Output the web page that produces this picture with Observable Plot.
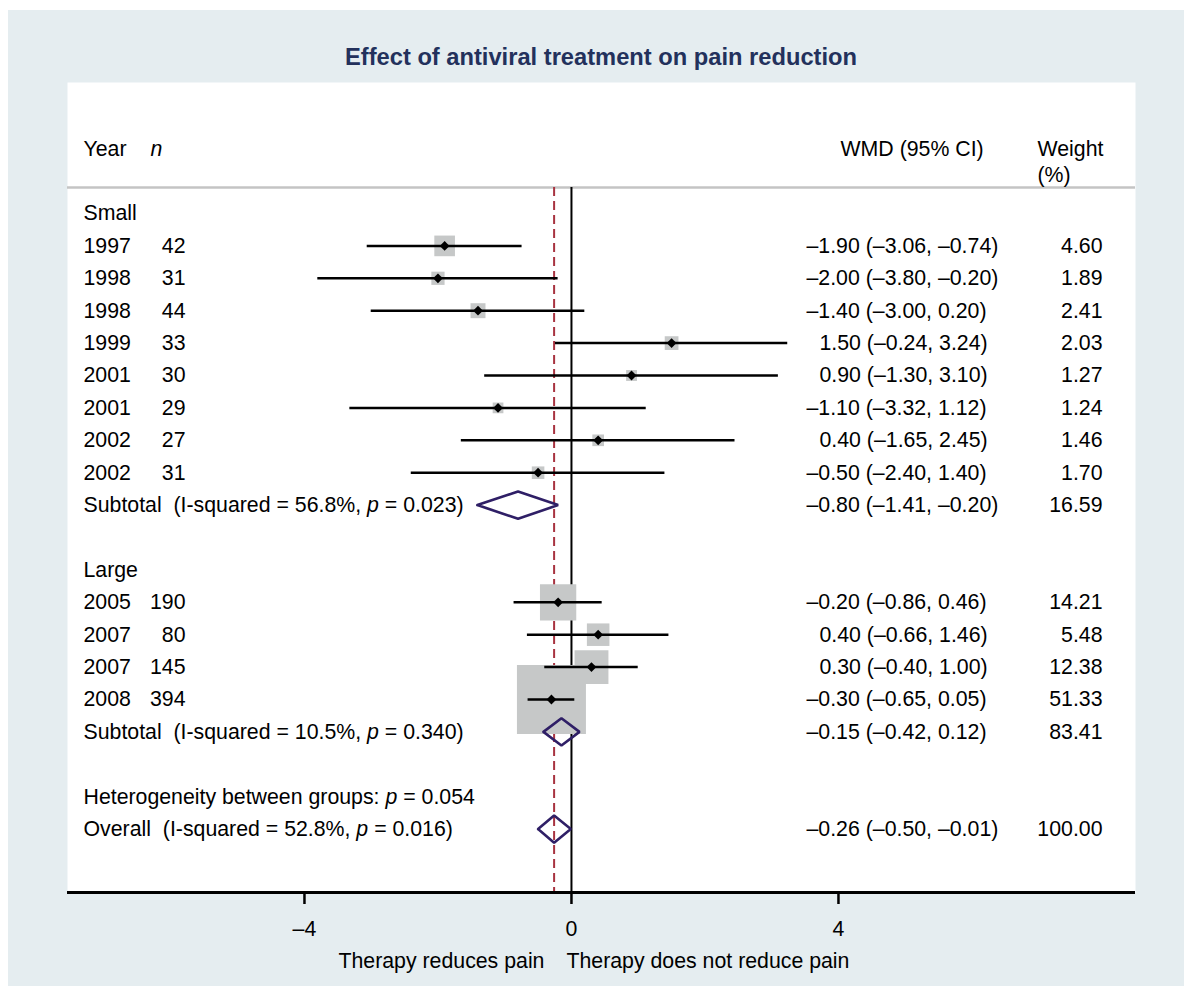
<!DOCTYPE html>
<html>
<head>
<meta charset="utf-8">
<script src="https://cdn.jsdelivr.net/npm/d3@7"></script>
<script src="https://cdn.jsdelivr.net/npm/@observablehq/plot@0.6"></script>
<style>
  body { margin: 0; background: #ffffff; font-family: "Liberation Sans", Arial, Helvetica, sans-serif; }
  #page { position: relative; width: 1184px; height: 986px; overflow: hidden; background: #ffffff; }
  #bg { position: absolute; left: 8px; top: 10px; right: 0; bottom: 0; background: #e5edf0; }
  #title { position: absolute; left: 67px; width: 1068px; top: 43px; text-align: center;
           font-weight: bold; font-size: 23.7px; color: #23315c; line-height: 28px; }
  #chart { position: absolute; left: 0; top: 82px; }
  #chart svg text { white-space: pre; }
</style>
</head>
<body>
<div id="page">
  <div id="bg"></div>
  <div id="title">Effect of antiviral treatment on pain reduction</div>
  <div id="chart"></div>
</div>
<script>
// ---------------- data ----------------
const groupNames = ["Small", "Large"];

const smallYear   = ["1997", "1998", "1998", "1999", "2001", "2001", "2002", "2002"];
const smallN      = [42, 31, 44, 33, 30, 29, 27, 31];
const smallEst    = [-1.90, -2.00, -1.40, 1.50, 0.90, -1.10, 0.40, -0.50];
const smallLo     = [-3.06, -3.80, -3.00, -0.24, -1.30, -3.32, -1.65, -2.40];
const smallHi     = [-0.74, -0.20, 0.20, 3.24, 3.10, 1.12, 2.45, 1.40];
const smallWeight = [4.60, 1.89, 2.41, 2.03, 1.27, 1.24, 1.46, 1.70];

const largeYear   = ["2005", "2007", "2007", "2008"];
const largeN      = [190, 80, 145, 394];
const largeEst    = [-0.20, 0.40, 0.30, -0.30];
const largeLo     = [-0.86, -0.66, -0.40, -0.65];
const largeHi     = [0.46, 1.46, 1.00, 0.05];
const largeWeight = [14.21, 5.48, 12.38, 51.33];

const subtotalEst    = [-0.80, -0.15];
const subtotalLo     = [-1.41, -0.42];
const subtotalHi     = [-0.20, 0.12];
const subtotalWeight = [16.59, 83.41];
const subtotalI2     = ["56.8", "10.5"];
const subtotalP      = ["0.023", "0.340"];

const overallEst = -0.26, overallLo = -0.50, overallHi = -0.01, overallWeight = 100.00;
const overallI2 = "52.8", overallP = "0.016";
const heterogeneityP = "0.054";

const xTicks = [-4, 0, 4];
const axisTitles = ["Therapy reduces pain", "Therapy does not reduce pain"];
const headerLabels = ["Year", "n", "WMD (95% CI)", "Weight", "(%)"];

// ---------------- build table rows ----------------
const groups = [
  {name: groupNames[0], year: smallYear, n: smallN, est: smallEst, lo: smallLo, hi: smallHi, w: smallWeight},
  {name: groupNames[1], year: largeYear, n: largeN, est: largeEst, lo: largeLo, hi: largeHi, w: largeWeight}
];
const fmt = v => (v < 0 ? "\u2013" : "") + Math.abs(v).toFixed(2);
const wmd = (e, l, h) => `${fmt(e)} (${fmt(l)}, ${fmt(h)})`;

const labels = [], studies = [], pooled = [];
let row = 0;
groups.forEach((g, gi) => {
  labels.push({row, text: g.name});
  row++;
  g.year.forEach((y, i) => {
    studies.push({row, year: y, n: String(g.n[i]), est: g.est[i], lo: g.lo[i], hi: g.hi[i], w: g.w[i]});
    row++;
  });
  pooled.push({row, est: subtotalEst[gi], lo: subtotalLo[gi], hi: subtotalHi[gi], w: subtotalWeight[gi]});
  labels.push({row, text: `Subtotal  (I-squared = ${subtotalI2[gi]}%, p = ${subtotalP[gi]})`});
  row += 2;
});
labels.push({row, text: `Heterogeneity between groups: p = ${heterogeneityP}`});
row++;
pooled.push({row, est: overallEst, lo: overallLo, hi: overallHi, w: overallWeight});
labels.push({row, text: `Overall  (I-squared = ${overallI2}%, p = ${overallP})`});

const estRows = [...studies, ...pooled].map(d => ({...d, ci: wmd(d.est, d.lo, d.hi), wt: d.w.toFixed(2)}));

// diamond outlines for pooled estimates
const halfH = 0.42;
const diamonds = pooled.flatMap((d, i) => [
  {id: i, x: d.lo, y: d.row}, {id: i, x: d.est, y: d.row - halfH},
  {id: i, x: d.hi, y: d.row}, {id: i, x: d.est, y: d.row + halfH},
  {id: i, x: d.lo, y: d.row}
]);

// ---------------- layout ----------------
const yTop = -4.043, yBottom = 20.957, headerRow = -2, sepRow = -0.8;
const FS = 21.3;
const txt = {fontSize: FS, fill: "black", frameAnchor: "left", y: "row", textAnchor: "start"};

const header = [
  {row: headerRow, text: headerLabels[0], dx: 16, italic: false},
  {row: headerRow, text: headerLabels[1], dx: 83, italic: true},
  {row: headerRow, text: headerLabels[2], dx: 773, italic: false},
  {row: headerRow, text: headerLabels[3], dx: 970, italic: false},
  {row: headerRow + 0.83, text: headerLabels[4], dx: 970, italic: false}
];

const plot = Plot.plot({
  width: 1184,
  height: 904,
  marginLeft: 67,
  marginRight: 49,
  marginTop: 0,
  marginBottom: 94,
  style: {background: "transparent", fontFamily: "Liberation Sans, Arial, Helvetica, sans-serif", fontSize: "21px", overflow: "visible"},
  x: {domain: [-7.55, 8.45]},
  y: {domain: [yTop, yBottom], range: [0, 810], axis: null},
  r: {type: "sqrt", domain: [0, 100], range: [0, 96.3 / Math.sqrt(Math.PI)]},
  marks: [
    Plot.frame({fill: "white", stroke: null}),
    Plot.ruleY([sepRow], {stroke: "#c4c4c4", strokeWidth: 2.5}),
    Plot.ruleX([0], {y1: sepRow, y2: yBottom, stroke: "black", strokeWidth: 2}),
    Plot.ruleX([overallEst], {y1: sepRow, y2: yBottom, stroke: "#a83340", strokeWidth: 2, strokeDasharray: "9,5"}),
    Plot.dot(studies, {x: "est", y: "row", r: "w", symbol: "square", fill: "#c6c8c8", stroke: null}),
    Plot.ruleY(studies, {y: "row", x1: "lo", x2: "hi", stroke: "black", strokeWidth: 2.5}),
    Plot.dot(studies, {x: "est", y: "row", symbol: "diamond2", r: 4.4, fill: "black", stroke: null}),
    Plot.line(diamonds, {x: "x", y: "y", z: "id", stroke: "#2f1f66", strokeWidth: 2.6, strokeLinejoin: "miter", curve: "linear"}),
    // header
    ...header.map(h => Plot.text([h], {...txt, text: "text", dx: h.dx, fontStyle: h.italic ? "italic" : "normal"})),
    // left column
    Plot.text(labels, {...txt, text: "text", dx: 16}),
    Plot.text(studies, {...txt, text: "year", dx: 16}),
    Plot.text(studies, {...txt, text: "n", dx: 118, textAnchor: "end"}),
    // WMD column (positive estimates shifted by the width of a dash)
    Plot.text(estRows.filter(d => d.est < 0), {...txt, text: "ci", dx: 739}),
    Plot.text(estRows.filter(d => d.est >= 0), {...txt, text: "ci", dx: 752}),
    // weight column
    Plot.text(estRows, {...txt, text: "wt", dx: 1035, textAnchor: "end"}),
    // x axis
    Plot.ruleY([yBottom], {stroke: "black", strokeWidth: 3}),
    Plot.axisX(xTicks, {anchor: "bottom", tickSize: 12, tickPadding: 16, strokeWidth: 2.5, fontSize: FS, label: null,
      tickFormat: d => (d < 0 ? "\u2013" : "") + Math.abs(d)}),
    Plot.text([axisTitles[0]], {x: 0, frameAnchor: "bottom", dy: 75, dx: -27, textAnchor: "end", text: d => d, fontSize: FS, fill: "black"}),
    Plot.text([axisTitles[1]], {x: 0, frameAnchor: "bottom", dy: 75, dx: -5, textAnchor: "start", text: d => d, fontSize: FS, fill: "black"})
  ]
});

// italicise the statistical symbol "p" inside label texts
plot.querySelectorAll("text").forEach(t => {
  if (t.querySelector("tspan")) return;
  const s = t.textContent;
  const m = s.match(/^(.*[,:] )p( = .*)$/);
  if (!m) return;
  t.textContent = "";
  t.appendChild(document.createTextNode(m[1]));
  const ts = document.createElementNS("http://www.w3.org/2000/svg", "tspan");
  ts.setAttribute("font-style", "italic");
  ts.textContent = "p";
  t.appendChild(ts);
  t.appendChild(document.createTextNode(m[2]));
});

document.getElementById("chart").appendChild(plot);
</script>
</body>
</html>
